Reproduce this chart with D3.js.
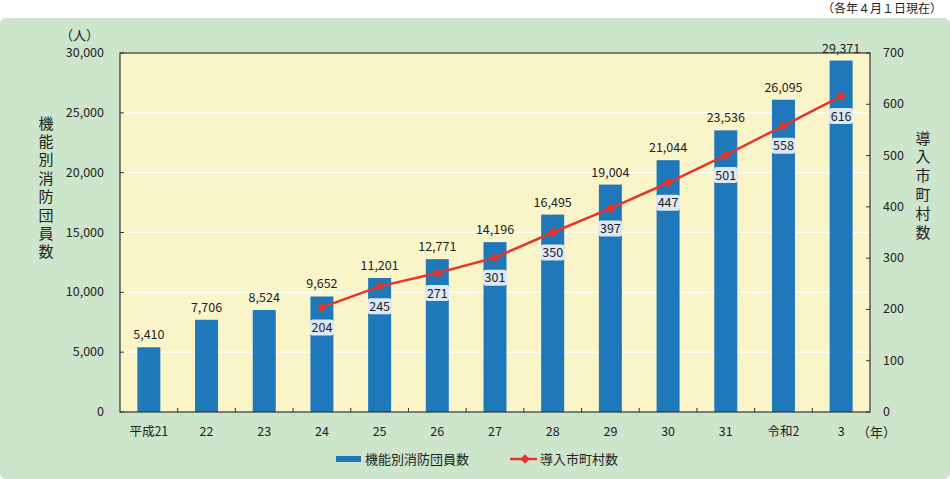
<!DOCTYPE html>
<html>
<head>
<meta charset="utf-8">
<script src="https://cdn.jsdelivr.net/npm/d3@7/dist/d3.min.js"></script>
<style>
body { margin: 0; background: #fff; }
svg text { font-family: "Noto Sans CJK JP", "Noto Sans", sans-serif; fill: #222; }
</style>
</head>
<body>
<div id="chart"></div>
<script>
// data
var years = ["平成21", "22", "23", "24", "25", "26", "27", "28", "29", "30", "31", "令和2", "3"];
var members = [5410, 7706, 8524, 9652, 11201, 12771, 14196, 16495, 19004, 21044, 23536, 26095, 29371];
var towns = [null, null, null, 204, 245, 271, 301, 350, 397, 447, 501, 558, 616];
var leftTicks = [0, 5000, 10000, 15000, 20000, 25000, 30000];
var rightTicks = [0, 100, 200, 300, 400, 500, 600, 700];

var width = 950, height = 479;
var plot = {left: 120, top: 53, right: 870, bottom: 412};

var svg = d3.select("#chart").append("svg")
	.attr("width", width)
	.attr("height", height);

//green panel
svg.append("rect")
	.attr("x", 0).attr("y", 18)
	.attr("width", width).attr("height", height - 18)
	.attr("rx", 6)
	.style("fill", "#cce5cb");

svg.append("text")
	.attr("x", 942).attr("y", 13)
	.attr("text-anchor", "end")
	.style("font-size", "12px")
	.text("（各年４月１日現在）");

//scales
var x = d3.scaleBand().domain(years).range([plot.left, plot.right]).paddingInner(0).paddingOuter(0);
var yL = d3.scaleLinear().domain([0, 30000]).range([plot.bottom, plot.top]);
var yR = d3.scaleLinear().domain([0, 700]).range([plot.bottom, plot.top]);

//plot background
svg.append("rect")
	.attr("x", plot.left).attr("y", plot.top)
	.attr("width", plot.right - plot.left).attr("height", plot.bottom - plot.top)
	.style("fill", "#faf5c9");

//white grid lines
svg.append("g").selectAll("line").data(leftTicks.slice(1, -1)).enter().append("line")
	.attr("x1", plot.left).attr("x2", plot.right)
	.attr("y1", function(d){ return yL(d); })
	.attr("y2", function(d){ return yL(d); })
	.attr("stroke", "#fff")
	.attr("stroke-width", 1.2);

//bars
var barW = 23;
svg.append("g").selectAll("rect").data(members).enter().append("rect")
	.attr("x", function(d, i){ return x(years[i]) + x.bandwidth() / 2 - barW / 2; })
	.attr("y", function(d){ return yL(d); })
	.attr("width", barW)
	.attr("height", function(d){ return plot.bottom - yL(d); })
	.style("fill", "#1f78b9");

//bar value labels
svg.append("g").selectAll("text").data(members).enter().append("text")
	.attr("x", function(d, i){ return x(years[i]) + x.bandwidth() / 2; })
	.attr("y", function(d){ return yL(d) - 8; })
	.attr("text-anchor", "middle")
	.style("font-size", "12.5px")
	.text(function(d){ return d3.format(",")(d); });

//line
var pts = [];
towns.forEach(function(d, i){ if(d !== null) pts.push([years[i], d]); });
var line = d3.line()
	.x(function(d){ return x(d[0]) + x.bandwidth() / 2; })
	.y(function(d){ return yR(d[1]); });
svg.append("path").datum(pts)
	.attr("d", line)
	.attr("fill", "none")
	.attr("stroke", "#e8352b")
	.attr("stroke-width", 2.5);

svg.append("g").selectAll("path").data(pts).enter().append("path")
	.attr("d", d3.symbol().type(d3.symbolDiamond2).size(55))
	.attr("transform", function(d){ return "translate(" + (x(d[0]) + x.bandwidth() / 2) + "," + yR(d[1]) + ")"; })
	.style("fill", "#e8352b");

//line value labels in light boxes
var lab = svg.append("g").selectAll("g").data(pts).enter().append("g")
	.attr("transform", function(d){ return "translate(" + (x(d[0]) + x.bandwidth() / 2) + "," + (yR(d[1]) + 20) + ")"; });
lab.append("rect")
	.attr("x", -12).attr("y", -8)
	.attr("width", 24).attr("height", 16)
	.attr("rx", 3)
	.style("fill", "#e6eef8")
	.style("opacity", 0.95);
lab.append("text")
	.attr("y", 4.5)
	.attr("text-anchor", "middle")
	.style("font-size", "12.5px")
	.text(function(d){ return d[1]; });

//border
svg.append("rect")
	.attr("x", plot.left).attr("y", plot.top)
	.attr("width", plot.right - plot.left).attr("height", plot.bottom - plot.top)
	.attr("fill", "none")
	.attr("stroke", "#333")
	.attr("stroke-width", 1.2);

//x ticks between categories
svg.append("g").selectAll("line").data(years.slice(1)).enter().append("line")
	.attr("x1", function(d){ return x(d); }).attr("x2", function(d){ return x(d); })
	.attr("y1", plot.bottom).attr("y2", plot.bottom - 4)
	.attr("stroke", "#333");

//left / right ticks
svg.append("g").selectAll("line").data(leftTicks).enter().append("line")
	.attr("x1", plot.left).attr("x2", plot.left + 4)
	.attr("y1", function(d){ return yL(d); })
	.attr("y2", function(d){ return yL(d); })
	.attr("stroke", "#333");
svg.append("g").selectAll("line").data(rightTicks).enter().append("line")
	.attr("x1", plot.right).attr("x2", plot.right - 4)
	.attr("y1", function(d){ return yR(d); })
	.attr("y2", function(d){ return yR(d); })
	.attr("stroke", "#333");

svg.append("g").selectAll("text").data(leftTicks).enter().append("text")
	.attr("x", 104)
	.attr("y", function(d){ return yL(d) + 4; })
	.attr("text-anchor", "end")
	.style("font-size", "12.5px")
	.text(function(d){ return d3.format(",")(d); });

svg.append("g").selectAll("text").data(rightTicks).enter().append("text")
	.attr("x", 883)
	.attr("y", function(d){ return yR(d) + 4; })
	.style("font-size", "12.5px")
	.text(function(d){ return d; });

//x labels
svg.append("g").selectAll("text").data(years).enter().append("text")
	.attr("x", function(d){ return x(d) + x.bandwidth() / 2; })
	.attr("y", 436)
	.attr("text-anchor", "middle")
	.style("font-size", "12.5px")
	.text(function(d){ return d; });

svg.append("text").attr("x", 857).attr("y", 437).style("font-size", "13px").text("（年）");
svg.append("text").attr("x", 60).attr("y", 40).style("font-size", "13px").text("（人）");

//vertical axis titles (one text each, vertical writing)
function vtitle(str, cx, ytop, gap){
	svg.append("text")
		.attr("x", cx)
		.attr("y", ytop)
		.style("writing-mode", "vertical-rl")
		.style("text-orientation", "upright")
		.style("letter-spacing", gap + "px")
		.style("font-size", "15px")
		.text(str);
}
vtitle("機能別消防団員数", 46, 115.5, 3.4);
vtitle("導入市町村数", 923, 130.5, 3.8);

//legend
var leg = svg.append("g");
leg.append("rect").attr("x", 336).attr("y", 456).attr("width", 25).attr("height", 6).style("fill", "#1f78b9");
leg.append("text").attr("x", 365).attr("y", 464).style("font-size", "13px").text("機能別消防団員数");
leg.append("line").attr("x1", 510).attr("x2", 537).attr("y1", 459).attr("y2", 459)
	.attr("stroke", "#e8352b").attr("stroke-width", 2.5);
leg.append("path").attr("d", d3.symbol().type(d3.symbolDiamond2).size(55))
	.attr("transform", "translate(525,459)").style("fill", "#e8352b");
leg.append("text").attr("x", 540).attr("y", 464).style("font-size", "13px").text("導入市町村数");
</script>
</body>
</html>
